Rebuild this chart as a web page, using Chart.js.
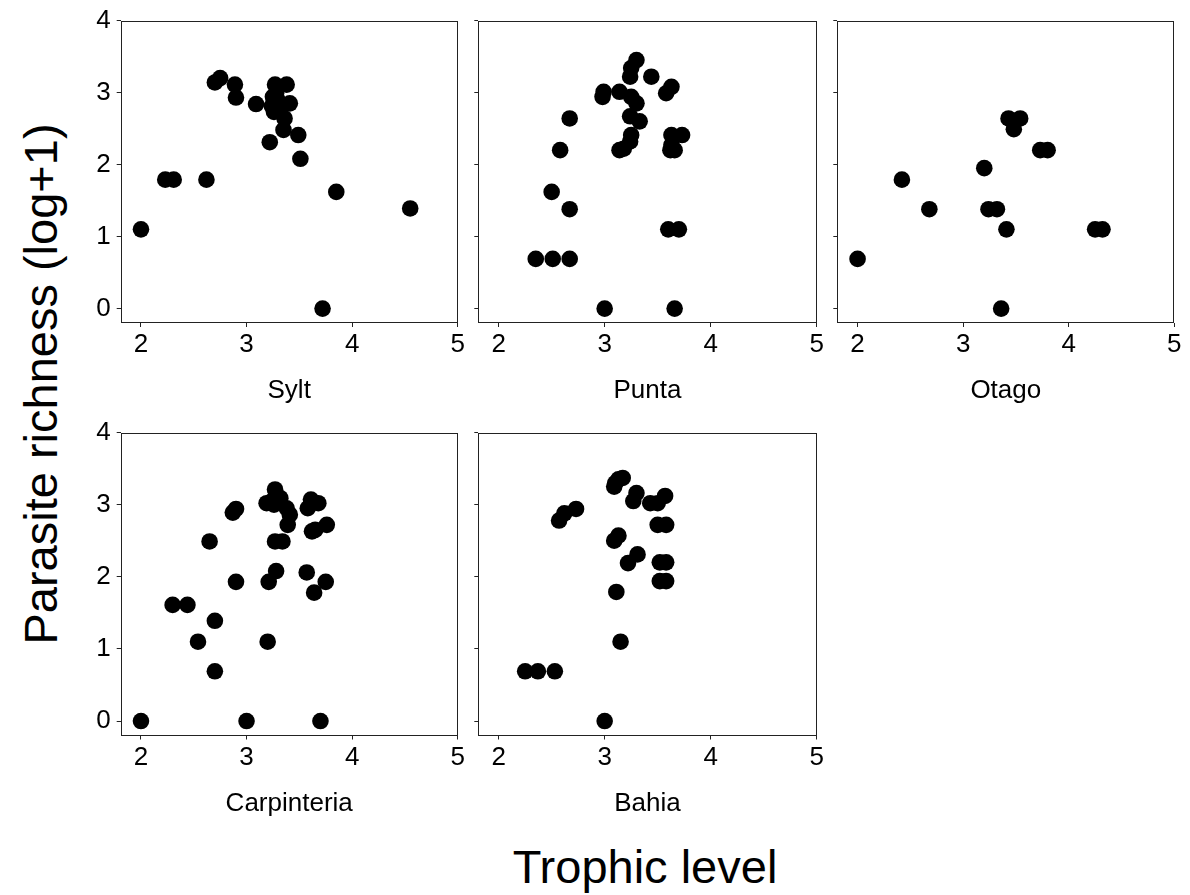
<!DOCTYPE html>
<html>
<head>
<meta charset="utf-8">
<script src="https://cdn.jsdelivr.net/npm/chart.js@4.4.1/dist/chart.umd.min.js"></script>
<style>
html,body{margin:0;padding:0;background:#fff;width:1190px;height:895px;overflow:hidden;position:relative}
canvas{position:absolute;left:0;top:0}
.big{position:absolute;font-family:'Liberation Sans',Arial,sans-serif;font-size:47px;line-height:1;color:#000;white-space:nowrap}
#ytitle{left:40px;top:384px;transform:translate(-50%,-50%) rotate(-90deg)}
#xtitle{left:645px;top:843px;transform:translateX(-50%)}
</style>
</head>
<body>
<div class="big" id="ytitle">Parasite richness (log+1)</div>
<div class="big" id="xtitle">Trophic level</div>
<script>
// ---- data ----
const siteNames = ['Sylt', 'Punta', 'Otago', 'Carpinteria', 'Bahia'];
const xTicks = [2, 3, 4, 5];
const yTicks = [0, 1, 2, 3, 4];

const syltX = [2.00, 2.23, 2.31, 2.62, 2.70, 2.75, 2.89, 2.90, 3.09, 3.27, 3.38, 3.25, 3.28, 3.41, 3.24, 3.32, 3.36, 3.35, 3.49, 3.22, 3.51, 3.85, 4.55, 3.72, 3.30, 3.26];
const syltY = [1.10, 1.79, 1.79, 1.79, 3.14, 3.20, 3.11, 2.93, 2.84, 3.11, 3.11, 2.94, 2.99, 2.85, 2.81, 2.76, 2.64, 2.48, 2.41, 2.31, 2.08, 1.62, 1.39, 0.00, 2.88, 2.73];

const puntaX = [2.35, 2.51, 2.67, 3.00, 3.66, 2.50, 2.67, 2.58, 2.67, 2.98, 2.99, 3.14, 3.30, 3.25, 3.24, 3.44, 3.63, 3.58, 3.25, 3.30, 3.24, 3.33, 3.25, 3.24, 3.14, 3.18, 3.63, 3.73, 3.63, 3.62, 3.66, 3.60, 3.70];
const puntaY = [0.69, 0.69, 0.69, 0.00, 0.00, 1.62, 1.38, 2.20, 2.64, 2.94, 3.01, 3.01, 3.45, 3.34, 3.22, 3.22, 3.08, 2.99, 2.94, 2.85, 2.67, 2.60, 2.41, 2.32, 2.20, 2.22, 2.41, 2.41, 2.27, 2.20, 2.20, 1.10, 1.10];

const otagoX = [2.00, 2.42, 2.68, 3.20, 3.24, 3.32, 3.41, 3.36, 3.43, 3.54, 3.48, 3.73, 3.80, 4.25, 4.32];
const otagoY = [0.69, 1.79, 1.38, 1.95, 1.38, 1.38, 1.10, 0.00, 2.64, 2.64, 2.49, 2.20, 2.20, 1.10, 1.10];

const carpX = [2.00, 3.00, 3.70, 2.70, 2.54, 3.20, 2.70, 2.30, 2.44, 2.90, 3.21, 3.28, 3.57, 3.64, 3.75, 2.65, 2.87, 2.90, 3.27, 3.34, 3.39, 3.65, 3.62, 3.76, 3.58, 3.61, 3.68, 3.27, 3.24, 3.19, 3.32, 3.38, 3.41, 3.26];
const carpY = [0.00, 0.00, 0.00, 0.69, 1.10, 1.10, 1.39, 1.61, 1.61, 1.93, 1.93, 2.08, 2.06, 1.78, 1.93, 2.49, 2.89, 2.94, 2.49, 2.49, 2.72, 2.65, 2.63, 2.72, 2.95, 3.07, 3.02, 3.21, 3.05, 3.02, 3.09, 2.95, 2.86, 3.00];

const bahiaX = [3.00, 2.25, 2.37, 2.53, 3.15, 3.11, 2.57, 2.62, 2.73, 3.09, 3.13, 3.22, 3.31, 3.52, 3.58, 3.52, 3.58, 3.50, 3.58, 3.13, 3.09, 3.17, 3.10, 3.30, 3.27, 3.43, 3.50, 3.57];
const bahiaY = [0.00, 0.69, 0.69, 0.69, 1.10, 1.79, 2.78, 2.88, 2.94, 2.50, 2.57, 2.19, 2.31, 2.20, 2.20, 1.94, 1.94, 2.72, 2.72, 3.35, 3.25, 3.37, 3.30, 3.16, 3.05, 3.02, 3.02, 3.12];

const siteX = [syltX, puntaX, otagoX, carpX, bahiaX];
const siteY = [syltY, puntaY, otagoY, carpY, bahiaY];

// ---- layout of the five panels ----
const W = 1190, H = 895;
const panels = [
  {L: 120.7, R: 457.7, T: 20.5, B: 323, yLabels: true},
  {L: 478.3, R: 816.7, T: 20.5, B: 323, yLabels: false},
  {L: 837.3, R: 1174.3, T: 20.5, B: 323, yLabels: false},
  {L: 120.7, R: 457.7, T: 432.5, B: 735.5, yLabels: true},
  {L: 478.3, R: 816.7, T: 432.5, B: 735.5, yLabels: false}
];
const X_MIN = 1.808, X_MAX = 5, Y_MIN = -0.2, Y_MAX = 4;
const YAX_W = 50, XAX_H = 81;
const FONT = "'Liberation Sans', Arial, sans-serif";
const AXIS_COL = '#222';

const framePlugin = {
  id: 'frame',
  afterDraw(chart) {
    const a = chart.chartArea, ctx = chart.ctx;
    ctx.save();
    ctx.strokeStyle = AXIS_COL;
    ctx.lineWidth = 1;
    const l = Math.round(a.left) + 0.5, t = Math.round(a.top) + 0.5;
    const r = Math.round(a.right) - 0.5, b = Math.round(a.bottom) - 0.5;
    ctx.strokeRect(l, t, r - l, b - t);
    ctx.restore();
  }
};

panels.forEach((p, i) => {
  const cv = document.createElement('canvas');
  cv.width = W; cv.height = H;
  cv.style.width = W + 'px'; cv.style.height = H + 'px';
  document.body.appendChild(cv);
  const pts = siteX[i].map((x, k) => ({x: x, y: siteY[i][k]}));
  new Chart(cv.getContext('2d'), {
    type: 'scatter',
    data: {datasets: [{
      data: pts,
      backgroundColor: '#000',
      borderWidth: 0,
      pointRadius: 8.3,
      pointHoverRadius: 8.3
    }]},
    plugins: [framePlugin],
    options: {
      responsive: false,
      animation: false,
      events: [],
      layout: {padding: {left: p.L - YAX_W, right: W - p.R, top: p.T, bottom: H - p.B - XAX_H}},
      plugins: {legend: {display: false}, tooltip: {enabled: false}, title: {display: false}},
      scales: {
        x: {
          type: 'linear', min: X_MIN, max: X_MAX,
          afterBuildTicks: ax => { ax.ticks = xTicks.map(v => ({value: v})); },
          afterFit: ax => { ax.height = XAX_H; },
          ticks: {font: {family: FONT, size: 26, lineHeight: 1}, color: '#000', padding: 5, maxRotation: 0, autoSkip: false,
                  callback: v => String(v)},
          grid: {drawOnChartArea: false, drawTicks: true, tickLength: 4, color: AXIS_COL, tickColor: AXIS_COL},
          border: {display: false},
          title: {display: true, text: siteNames[i], font: {family: FONT, size: 26, lineHeight: 1}, color: '#000', padding: 0}
        },
        y: {
          type: 'linear', min: Y_MIN, max: Y_MAX,
          afterBuildTicks: ax => { ax.ticks = yTicks.map(v => ({value: v})); },
          afterFit: ax => { ax.width = YAX_W; },
          ticks: {font: {family: FONT, size: 26, lineHeight: 1}, color: '#000', padding: 6, autoSkip: false,
                  callback: v => p.yLabels ? String(v) : ''},
          grid: {drawOnChartArea: false, drawTicks: true, tickLength: 4, color: AXIS_COL, tickColor: AXIS_COL},
          border: {display: false}
        }
      }
    }
  });
});
</script>
</body>
</html>
